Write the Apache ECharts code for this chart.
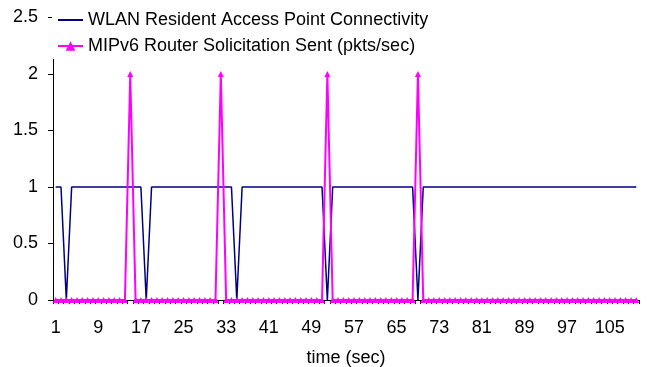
<!DOCTYPE html>
<html>
<head>
<meta charset="utf-8">
<script src="https://cdn.jsdelivr.net/npm/echarts@6/dist/echarts.min.js"></script>
<style>html,body{margin:0;padding:0;background:#fff;}#c{width:647px;height:367px;}</style>
</head>
<body>
<div id="c"></div>
<script>
var categories = [1,2,3,4,5,6,7,8,9,10,11,12,13,14,15,16,17,18,19,20,21,22,23,24,25,26,27,28,29,30,31,32,33,34,35,36,37,38,39,40,41,42,43,44,45,46,47,48,49,50,51,52,53,54,55,56,57,58,59,60,61,62,63,64,65,66,67,68,69,70,71,72,73,74,75,76,77,78,79,80,81,82,83,84,85,86,87,88,89,90,91,92,93,94,95,96,97,98,99,100,101,102,103,104,105,106,107,108,109,110];
// WLAN Resident Access Point Connectivity
var wlan = [1,1,0,1,1,1,1,1,1,1, 1,1,1,1,1,1,1,0,1,1, 1,1,1,1,1,1,1,1,1,1, 1,1,1,1,0,1,1,1,1,1, 1,1,1,1,1,1,1,1,1,1, 1,0,1,1,1,1,1,1,1,1, 1,1,1,1,1,1,1,1,0,1, 1,1,1,1,1,1,1,1,1,1, 1,1,1,1,1,1,1,1,1,1, 1,1,1,1,1,1,1,1,1,1, 1,1,1,1,1,1,1,1,1,1];
// MIPv6 Router Solicitation Sent (pkts/sec)
var mipv6 = [0,0,0,0,0,0,0,0,0,0, 0,0,0,0,2,0,0,0,0,0, 0,0,0,0,0,0,0,0,0,0, 0,2,0,0,0,0,0,0,0,0, 0,0,0,0,0,0,0,0,0,0, 0,2,0,0,0,0,0,0,0,0, 0,0,0,0,0,0,0,0,2,0, 0,0,0,0,0,0,0,0,0,0, 0,0,0,0,0,0,0,0,0,0, 0,0,0,0,0,0,0,0,0,0, 0,0,0,0,0,0,0,0,0,0];
var seriesNames = ['WLAN Resident Access Point Connectivity', 'MIPv6 Router Solicitation Sent (pkts/sec)'];

var font = 'Liberation Sans, Arial, sans-serif';
var chart = echarts.init(document.getElementById('c'), null, {renderer: 'canvas'});
chart.setOption({
  animation: false,
  backgroundColor: '#fff',
  textStyle: {fontFamily: font},
  grid: {left: 53, right: 8, top: 17.5, bottom: 67, containLabel: false, outerBoundsMode: 'none'},
  legend: {
    orient: 'vertical', left: 52, top: 6, padding: [5, 6, 4, 5],
    backgroundColor: '#fff', itemWidth: 25, itemHeight: 12, itemGap: 8,
    textStyle: {fontFamily: font, fontSize: 18, color: '#000'},
    data: [
      {name: seriesNames[0], itemStyle: {opacity: 0}},
      {name: seriesNames[1]}
    ]
  },
  xAxis: {
    type: 'category', data: categories, boundaryGap: true,
    name: 'time (sec)', nameLocation: 'middle', nameGap: 49,
    nameTextStyle: {fontFamily: font, fontSize: 18, color: '#000'},
    axisLine: {lineStyle: {color: '#000', width: 1}},
    axisTick: {show: true, interval: 0, length: 4, lineStyle: {color: '#000'}},
    axisLabel: {interval: 7, margin: 19, fontFamily: font, fontSize: 18, color: '#000'},
    splitLine: {show: false}
  },
  yAxis: {
    type: 'value', min: 0, max: 2.5, interval: 0.5,
    axisLine: {show: true, lineStyle: {color: '#000', width: 1}},
    axisTick: {show: true, length: 5, lineStyle: {color: '#000'}},
    axisLabel: {margin: 15, fontFamily: font, fontSize: 18, color: '#000'},
    splitLine: {show: false}
  },
  series: [
    {name: seriesNames[0], type: 'line', data: wlan, symbol: 'none',
     lineStyle: {color: '#000080', width: 1.5}, itemStyle: {color: '#000080'}},
    {name: seriesNames[1], type: 'line', data: mipv6, symbol: 'triangle', symbolSize: 6, showAllSymbol: true,
     lineStyle: {color: '#FF00FF', width: 2}, itemStyle: {color: '#FF00FF'}}
  ]
});
</script>
</body>
</html>
